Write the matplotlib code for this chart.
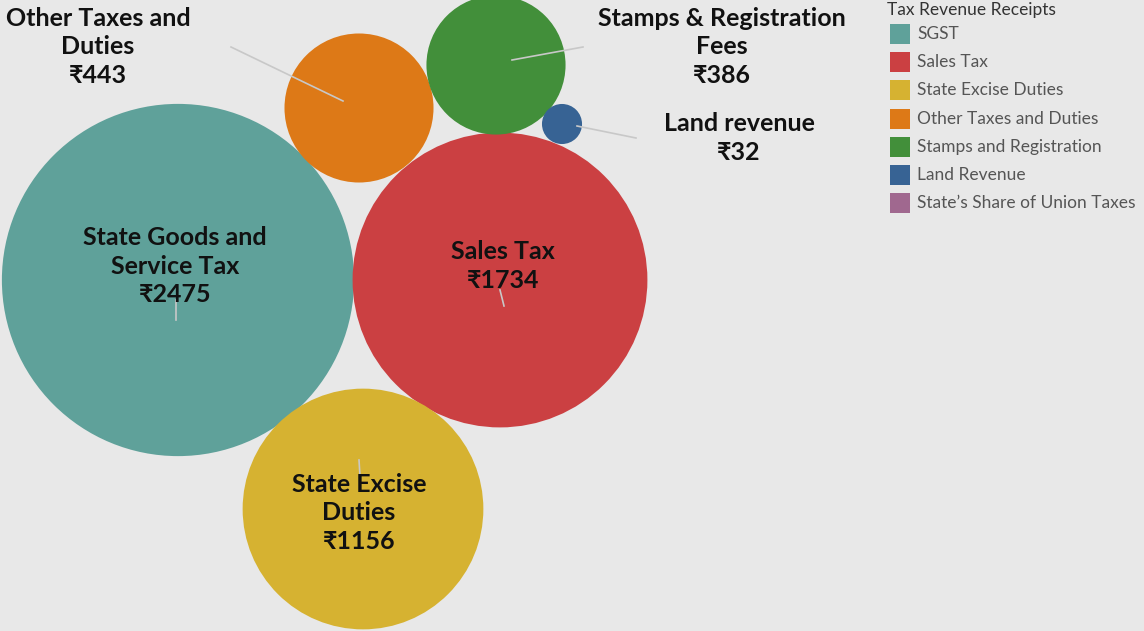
import matplotlib.pyplot as plt
from matplotlib.patches import Circle, Rectangle

# data
categories = ['SGST', 'Sales Tax', 'State Excise Duties', 'Other Taxes and Duties',
              'Stamps and Registration', 'Land Revenue']
values = [2475, 1734, 1156, 443, 386, 32]
bubble_labels = ['State Goods and\nService Tax', 'Sales Tax', 'State Excise\nDuties',
                 'Other Taxes and\nDuties', 'Stamps & Registration\nFees', 'Land revenue']
legend_items = ['SGST', 'Sales Tax', 'State Excise Duties', 'Other Taxes and Duties',
                'Stamps and Registration', 'Land Revenue', "State\u2019s Share of Union Taxes"]
colors = ['#5fa19a', '#cb4042', '#d6b231', '#dd7917', '#428f3a', '#376394', '#a0688f']

# layout (pixel coordinates of the packed bubbles)
centers = [(178, 280), (500, 280), (363, 509), (359, 108), (496, 65), (562, 124)]
label_pos = [(175, 266), (503, 266), (359, 513), (98, 47), (722, 47), (739, 138)]
leaders = [((176, 300), (176, 320)), ((500, 290), (504, 306)), ((359, 460), (360, 476)),
           ((231, 47), (343, 101)), ((583, 47), (512, 60)), ((577, 126), (636, 138))]
scale = 3.54  # px per sqrt(value)

plt.rcParams['font.family'] = ['Lato', 'DejaVu Sans']
bg = '#e8e8e8'
fig = plt.figure(figsize=(11.44, 6.31), dpi=100, facecolor=bg)
ax = fig.add_axes([0, 0, 1, 1])
ax.set_facecolor(bg)
ax.set_xlim(0, 1144)
ax.set_ylim(631, 0)
ax.set_aspect('equal')
ax.axis('off')

for (cx, cy), v, c in zip(centers, values, colors):
    ax.add_patch(Circle((cx, cy), scale * v ** 0.5, color=c, lw=0))

for (p0, p1) in leaders:
    ax.plot([p0[0], p1[0]], [p0[1], p1[1]], color='#c8c8c8', lw=1.2, zorder=3)

for (lx, ly), lab, v in zip(label_pos, bubble_labels, values):
    ax.text(lx, ly, f'{lab}\n\u20b9{v}', ha='center', va='center', fontsize=18,
            fontweight='bold', color='#111111', linespacing=1.27, zorder=4)

# legend
ax.text(887, 10, 'Tax Revenue Receipts', fontsize=12.5, color='#333333', va='center')
for i, (name, c) in enumerate(zip(legend_items, colors)):
    y = 34 + i * 28.2
    ax.add_patch(Rectangle((890, y - 10), 20, 20, color=c, lw=0))
    ax.text(917, y, name, fontsize=12.5, color='#555555', va='center')

fig.savefig('out.png', dpi=100, facecolor=bg)
